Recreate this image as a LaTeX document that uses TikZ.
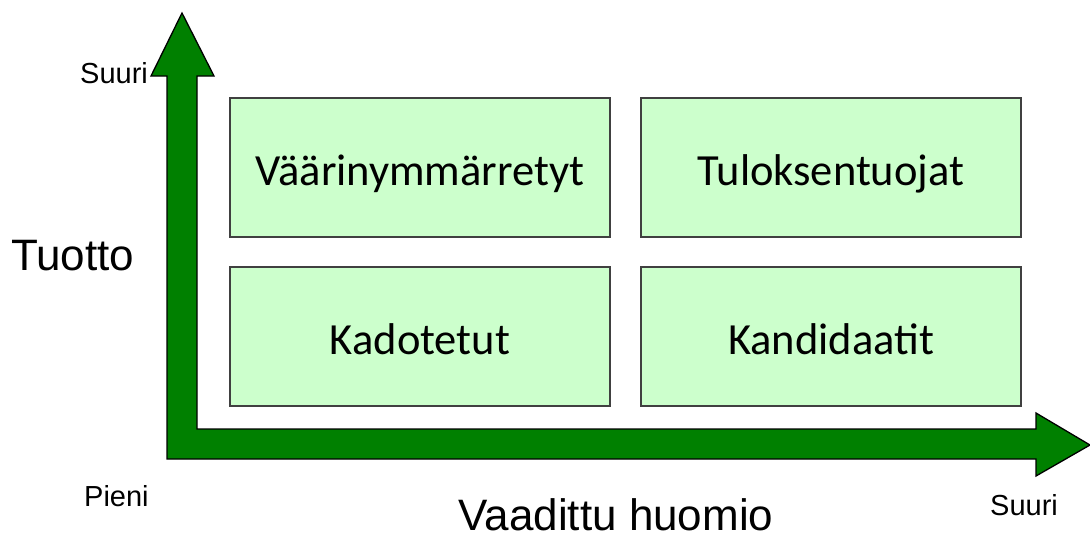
\documentclass[tikz,border=0pt]{standalone}
\usepackage{fontspec}
\setmainfont{Liberation Sans}
\newfontfamily\boxfont{Carlito}
\definecolor{axisgreen}{HTML}{008000}
\definecolor{boxfill}{HTML}{CCFFCC}
\definecolor{boxline}{HTML}{404040}
\tikzset{
  quadbox/.style={draw=boxline, line width=1.3pt, fill=boxfill, minimum width=380pt, minimum height=139pt, inner sep=0pt, text height=35pt, text depth=0pt, font=\boxfont\fontsize{44.5}{48}\selectfont},
  smalllabel/.style={inner sep=0pt, font=\fontsize{29}{32}\selectfont},
  biglabel/.style={inner sep=0pt, text depth=0pt, font=\fontsize{44}{48}\selectfont}
}
\begin{document}
\begin{tikzpicture}[x=1pt,y=-1pt]
\useasboundingbox (0,0) rectangle (1090,536);
% L-shaped double arrow
\draw[fill=axisgreen, draw=black, line width=1.3pt, line join=miter]
  (182,13) -- (214,76) -- (197,76) -- (197,429) -- (1036,429) -- (1036,413)
  -- (1090,445) -- (1036,476) -- (1036,459) -- (167,459) -- (167,76) -- (151,76) -- cycle;
% quadrants
\node[quadbox] (q1) at (420,167.5) {Väärinymmärretyt};
\node[quadbox] (q2) at (831,167.5) {Tuloksentuojat};
\node[quadbox] (q3) at (420,336.5) {Kadotetut};
\node[quadbox] (q4) at (831,336.5) {Kandidaatit};
% labels
\node[smalllabel, anchor=base west] (ytop) at (80,83) {Suuri};
\node[biglabel, anchor=base west] (ylab) at (11,270) {Tuotto};
\node[smalllabel, anchor=base west] (orig) at (84,506) {Pieni};
\node[biglabel, anchor=base] (xlab) at (616,530) {Vaadittu huomio};
\node[smalllabel, anchor=base west] (xtop) at (990,515) {Suuri};
\end{tikzpicture}
\end{document}
